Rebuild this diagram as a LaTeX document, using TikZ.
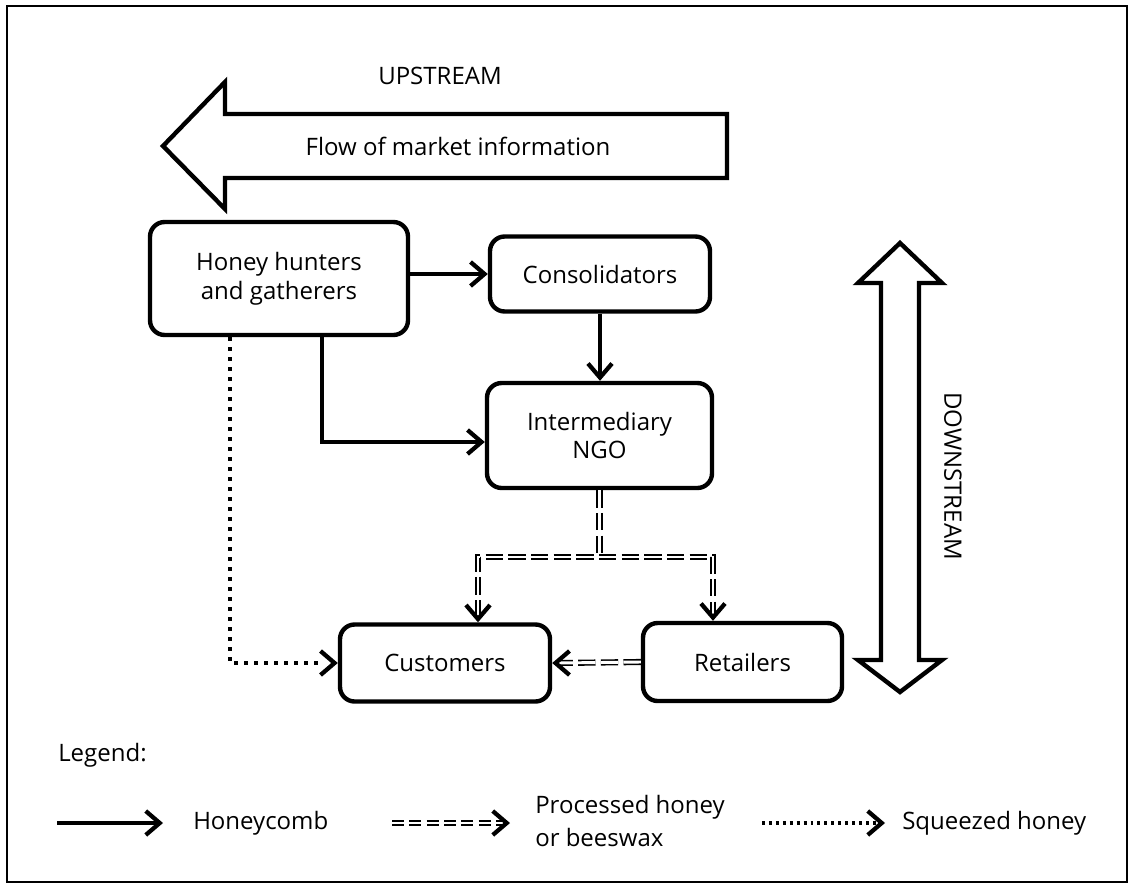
\documentclass[tikz,border=0pt]{standalone}
\usepackage{fontspec}
\setmainfont{Open Sans}
\usetikzlibrary{arrows.meta,calc}
\tikzset{
  box/.style={draw,line width=3.3pt,rounded corners=11pt,align=center,inner sep=0pt,
    font=\fontsize{18}{21.5}\selectfont},
  lbl/.style={font=\fontsize{18}{21.5}\selectfont,align=center,inner sep=0pt},
  chev/.style={-{Straight Barb[length=10.5pt,width=18pt,line width=3.2pt]}},
  flow/.style={line width=3.1pt,chev},
  hdd/.style={line width=3.1pt,chev},
  dbl/.style={line width=1.2pt,double distance=2.2pt,dash pattern=on 13pt off 4pt},
  dbllg/.style={line width=1.1pt,double distance=2pt,dash pattern=on 9pt off 4pt},
  dots/.style={line width=3.3pt,dash pattern=on 3.2pt off 4.3pt},
  dotslg/.style={line width=2.8pt,dash pattern=on 2.2pt off 3pt},
  bigarrow/.style={draw,line width=3.3pt,line join=miter,fill=white},
}
\begin{document}
\begin{tikzpicture}[x=0.75pt,y=-0.75pt]
\useasboundingbox (0,0) rectangle (1134,888);
\draw[line width=2pt] (7,6) rectangle (1127,882);

% upstream arrow
\draw[bigarrow] (163,146) -- (225,82) -- (225,114) -- (727,114) -- (727,178) -- (225,178) -- (225,209) -- cycle;
\node[lbl] (up) at (440,76) {UPSTREAM};
\node[lbl] (flowtxt) at (458,146) {Flow of market information};

% downstream double arrow
\draw[bigarrow] (900,243) -- (942,283) -- (919,283) -- (919,660) -- (942,660) -- (900,692) -- (858,660) -- (881,660) -- (881,283) -- (858,283) -- cycle;
\node[lbl,rotate=-90] (down) at (953,476) {DOWNSTREAM};

% boxes
\node[box,minimum width={258*0.75pt},minimum height={113*0.75pt}] (hh) at (279,278.5) {Honey hunters\\and gatherers};
\node[box,minimum width={220*0.75pt},minimum height={75*0.75pt}] (cons) at (600,274) {Consolidators};
\node[box,minimum width={225*0.75pt},minimum height={105*0.75pt}] (ngo) at (599.5,435.5) {Intermediary\\NGO};
\node[box,minimum width={210*0.75pt},minimum height={77*0.75pt}] (cust) at (445,663) {Customers};
\node[box,minimum width={199*0.75pt},minimum height={78*0.75pt}] (ret) at (742.5,662) {Retailers};

% honeycomb flows
\draw[flow] (hh.east |- cons.west) -- (cons.west);
\draw[flow] (cons.south) -- (cons.south |- ngo.north);
\draw[flow] ($(hh.south)+(43,0)$) |- ($(ngo.west)+(0,6.5)$);

% squeezed honey
\draw[dots] ($(hh.south)+(-49,0)$) |- ($(cust.west)+(-14,0)$);
\draw[hdd] ($(cust.west)+(-3,0)$) -- (cust.west);

% processed honey
\coordinate (jl) at (478,557);
\coordinate (jr) at (713,557);
\draw[dbl] (ngo.south) -- (ngo.south |- jl);
\draw[dbl] ($(jl |- cust.north)+(0,-5)$) -- (jl) -- (jr) -- ($(jr |- ret.north)+(0,-5)$);
\draw[hdd] ($(jl |- cust.north)+(0,-3)$) -- (jl |- cust.north);
\draw[hdd] ($(jr |- ret.north)+(0,-3)$) -- (jr |- ret.north);
\draw[dbl] (ret.west) -- ($(cust.east)+(5,0)$);
\draw[hdd] ($(cust.east)+(3,0)$) -- (cust.east);

% legend
\node[lbl,anchor=west] (legend) at (58,755) {Legend:};
\coordinate (l1a) at (57,823);
\coordinate (l1b) at (163,823);
\draw[flow] (l1a) -- (l1b);
\node[lbl,anchor=west] (honeycomb) at (193,823) {Honeycomb};
\coordinate (l2a) at (392,823);
\coordinate (l2b) at (510,823);
\draw[dbllg] (l2a) -- ($(l2b)+(-7,0)$);
\draw[hdd] ($(l2b)+(-3,0)$) -- (l2b);
\node[lbl,anchor=west,align=left,font=\fontsize{18}{24.75}\selectfont] (proc) at (535,821) {Processed honey\\or beeswax};
\coordinate (l3a) at (762,823);
\coordinate (l3b) at (885,823);
\draw[dotslg] (l3a) -- ($(l3b)+(-7,0)$);
\draw[hdd] ($(l3b)+(-3,0)$) -- (l3b);
\node[lbl,anchor=west] (sq) at (902,823) {Squeezed honey};
\end{tikzpicture}
\end{document}
